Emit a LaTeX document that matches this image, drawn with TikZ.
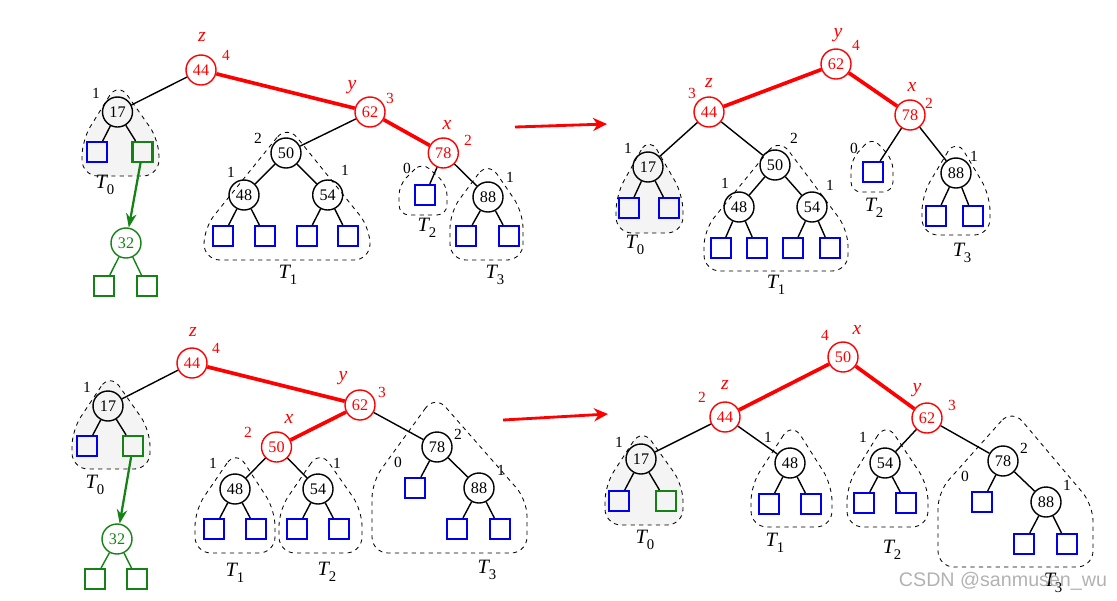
\documentclass[tikz,border=0pt]{standalone}
\usepackage{fontspec}
\setmainfont{Liberation Serif}
\newfontfamily\wmfont{Liberation Sans}
\usetikzlibrary{arrows.meta}
\definecolor{avlred}{RGB}{255,0,0}
\definecolor{avlblue}{RGB}{0,0,235}
\definecolor{avlgreen}{RGB}{20,130,20}
\definecolor{blobgray}{RGB}{244,244,244}
\newcommand\tsub[1]{\textit{T}\kern-1pt\raisebox{-0.6ex}{\fontsize{10.5}{10}\selectfont #1}}
\begin{document}
\begin{tikzpicture}[x=0.025cm,y=-0.025cm,
    inner/.style = {circle,draw,line width=1pt,minimum size=0.75cm,inner sep=0pt,
                    font=\fontsize{11.5}{12}\selectfont},
    rinner/.style = {inner,draw=avlred,text=avlred},
    ginner/.style = {inner,draw=avlgreen,text=avlgreen},
    leaf/.style = {rectangle,draw=avlblue,line width=1.5pt,minimum size=0.5cm,inner sep=0pt},
    gleaf/.style = {leaf,draw=avlgreen},
    edge/.style = {line width=1pt},
    redge/.style = {avlred,line width=2.6pt},
    gedge/.style = {avlgreen,line width=1pt},
    hgt/.style = {inner sep=0pt,font=\fontsize{11}{12}\selectfont},
    rhgt/.style = {hgt,text=avlred},
    tag/.style = {inner sep=0pt,text=avlred,font=\fontsize{14}{15}\selectfont\itshape},
    tname/.style = {inner sep=0pt,font=\fontsize{14.5}{16}\selectfont},
    subtree/.style = {dashed,line width=0.6pt,rounded corners=0.4cm},
    smalltree/.style = {subtree,rounded corners=0.25cm},
    arrow/.style = {avlred,line width=2pt,-{Stealth[length=3.5mm,width=3.3mm]}},
    garrow/.style = {avlgreen,line width=1.6pt,-{Stealth[length=3.5mm,width=2.6mm]}}]
    \useasboundingbox (0,0) rectangle (1117,600);

    % top left
    \draw[subtree,fill=blobgray] (118,82) -- (82,140) -- (82,176) -- (159,176) -- (159,140) -- cycle;
    \draw[subtree] (287,125) -- (204,228) -- (204,260) -- (370,260) -- (370,228) -- cycle;
    \draw[smalltree] (422,162) -- (399,185) -- (399,215) -- (447,215) -- (447,185) -- cycle;
    \draw[subtree] (488,161) -- (450,212) -- (450,260) -- (523,260) -- (523,212) -- cycle;

    \node[rinner] (a44) at (201,70) {44};
    \node[tag] (a44t) at (202,37) {z};
    \node[rhgt] (a44h) at (226,55) {4};
    \node[inner] (a17) at (117.5,112) {17};
    \node[hgt] (a17h) at (96,93) {1};
    \node[leaf] (a17l) at (97,152) {};
    \node[gleaf] (a17r) at (142.5,152) {};
    \node[ginner] (a32) at (126,243) {32};
    \node[gleaf] (a32l) at (104.3,286) {};
    \node[gleaf] (a32r) at (146.7,286) {};
    \node[rinner] (a62) at (370,112) {62};
    \node[tag] (a62t) at (352,87) {y};
    \node[rhgt] (a62h) at (390,98) {3};
    \node[inner] (a50) at (286,153) {50};
    \node[hgt] (a50h) at (258,138) {2};
    \node[inner] (a48) at (244,195) {48};
    \node[hgt] (a48h) at (231,172) {1};
    \node[leaf] (a48l) at (223,236) {};
    \node[leaf] (a48r) at (265,236) {};
    \node[inner] (a54) at (327.7,195) {54};
    \node[hgt] (a54h) at (345,170) {1};
    \node[leaf] (a54l) at (306.7,236) {};
    \node[leaf] (a54r) at (348.3,236) {};
    \node[rinner] (a78) at (443.3,153) {78};
    \node[tag] (a78t) at (447,125) {x};
    \node[rhgt] (a78h) at (468,140) {2};
    \node[leaf] (a78l) at (425,195) {};
    \node[hgt] (a78lh) at (407,168) {0};
    \node[inner] (a88) at (488,197) {88};
    \node[hgt] (a88h) at (510,177) {1};
    \node[leaf] (a88l) at (466,236) {};
    \node[leaf] (a88r) at (509,236) {};
    \node[tname] (aT0) at (105,185) {\tsub{0}};
    \node[tname] (aT1) at (288,275) {\tsub{1}};
    \node[tname] (aT2) at (427,228) {\tsub{2}};
    \node[tname] (aT3) at (495,275) {\tsub{3}};

    \draw[edge] (a44) -- (a17);
    \draw[redge] (a44) -- (a62);
    \draw[edge] (a17) -- (a17l);
    \draw[edge] (a17) -- (a17r);
    \draw[garrow] (a17r) -- (a32);
    \draw[gedge] (a32) -- (a32l);
    \draw[gedge] (a32) -- (a32r);
    \draw[edge] (a62) -- (a50);
    \draw[redge] (a62) -- (a78);
    \draw[edge] (a50) -- (a48);
    \draw[edge] (a50) -- (a54);
    \draw[edge] (a48) -- (a48l);
    \draw[edge] (a48) -- (a48r);
    \draw[edge] (a54) -- (a54l);
    \draw[edge] (a54) -- (a54r);
    \draw[edge] (a78) -- (a78l);
    \draw[edge] (a78) -- (a88);
    \draw[edge] (a88) -- (a88l);
    \draw[edge] (a88) -- (a88r);

    \coordinate (arrAs) at (515,127);
    \coordinate (arrAe) at (607,124);
    \draw[arrow] (arrAs) -- (arrAe);

    % top right
    \draw[subtree,fill=blobgray] (649,136) -- (616,195) -- (616,233) -- (683,233) -- (683,195) -- cycle;
    \draw[subtree] (779,138) -- (704,230) -- (704,271) -- (848,271) -- (848,230) -- cycle;
    \draw[smalltree] (872,137) -- (851,160) -- (851,192) -- (893,192) -- (893,160) -- cycle;
    \draw[subtree] (956,138) -- (922,195) -- (922,235) -- (990,235) -- (990,195) -- cycle;

    \node[rinner] (b62) at (836,64) {62};
    \node[tag] (b62t) at (838,35) {y};
    \node[rhgt] (b62h) at (856,45) {4};
    \node[rinner] (b44) at (709,112) {44};
    \node[tag] (b44t) at (709,83) {z};
    \node[rhgt] (b44h) at (692,93) {3};
    \node[rinner] (b78) at (910,115) {78};
    \node[tag] (b78t) at (912,87) {x};
    \node[rhgt] (b78h) at (929,103) {2};
    \node[inner] (b17) at (648,167) {17};
    \node[hgt] (b17h) at (628,148) {1};
    \node[leaf] (b17l) at (629,208) {};
    \node[leaf] (b17r) at (669,208) {};
    \node[inner] (b50) at (775,165) {50};
    \node[hgt] (b50h) at (794,138) {2};
    \node[inner] (b48) at (739,207) {48};
    \node[hgt] (b48h) at (725,183) {1};
    \node[leaf] (b48l) at (721,248) {};
    \node[leaf] (b48r) at (757,248) {};
    \node[inner] (b54) at (812,207) {54};
    \node[hgt] (b54h) at (830,185) {1};
    \node[leaf] (b54l) at (793,248) {};
    \node[leaf] (b54r) at (830,248) {};
    \node[leaf] (b78l) at (873,172) {};
    \node[hgt] (b78lh) at (854,148) {0};
    \node[inner] (b88) at (956,173) {88};
    \node[hgt] (b88h) at (974,156) {1};
    \node[leaf] (b88l) at (936,216) {};
    \node[leaf] (b88r) at (973,216) {};
    \node[tname] (bT0) at (635,245) {\tsub{0}};
    \node[tname] (bT1) at (776,285) {\tsub{1}};
    \node[tname] (bT2) at (874,208) {\tsub{2}};
    \node[tname] (bT3) at (962,253) {\tsub{3}};

    \draw[redge] (b62) -- (b44);
    \draw[redge] (b62) -- (b78);
    \draw[edge] (b44) -- (b17);
    \draw[edge] (b44) -- (b50);
    \draw[edge] (b17) -- (b17l);
    \draw[edge] (b17) -- (b17r);
    \draw[edge] (b50) -- (b48);
    \draw[edge] (b50) -- (b54);
    \draw[edge] (b48) -- (b48l);
    \draw[edge] (b48) -- (b48r);
    \draw[edge] (b54) -- (b54l);
    \draw[edge] (b54) -- (b54r);
    \draw[edge] (b78) -- (b78l);
    \draw[edge] (b78) -- (b88);
    \draw[edge] (b88) -- (b88l);
    \draw[edge] (b88) -- (b88r);

    % bottom left
    \draw[subtree,fill=blobgray] (110,373) -- (72,430) -- (72,469) -- (150,469) -- (150,430) -- cycle;
    \draw[subtree] (236,450) -- (195,510) -- (195,553) -- (275,553) -- (275,510) -- cycle;
    \draw[subtree] (320,450) -- (279,510) -- (279,553) -- (362,553) -- (362,510) -- cycle;
    \draw[subtree] (435,395) -- (372,482) -- (372,553) -- (527,553) -- (527,500) -- cycle;

    \node[rinner] (c44) at (192,363) {44};
    \node[tag] (c44t) at (193,332) {z};
    \node[rhgt] (c44h) at (216,348) {4};
    \node[inner] (c17) at (108,406) {17};
    \node[hgt] (c17h) at (87,387) {1};
    \node[leaf] (c17l) at (87,446) {};
    \node[gleaf] (c17r) at (133,446) {};
    \node[ginner] (c32) at (117,539) {32};
    \node[gleaf] (c32l) at (95,579) {};
    \node[gleaf] (c32r) at (137,579) {};
    \node[rinner] (c62) at (360,405) {62};
    \node[tag] (c62t) at (343,378) {y};
    \node[rhgt] (c62h) at (382,392) {3};
    \node[rinner] (c50) at (276.5,447) {50};
    \node[tag] (c50t) at (289,419) {x};
    \node[rhgt] (c50h) at (248,432) {2};
    \node[inner] (c48) at (235,489) {48};
    \node[hgt] (c48h) at (213,463) {1};
    \node[leaf] (c48l) at (214,529) {};
    \node[leaf] (c48r) at (256,529) {};
    \node[inner] (c54) at (318,489) {54};
    \node[hgt] (c54h) at (337,463) {1};
    \node[leaf] (c54l) at (297,529) {};
    \node[leaf] (c54r) at (339,529) {};
    \node[inner] (c78) at (437,447) {78};
    \node[hgt] (c78h) at (458,434) {2};
    \node[leaf] (c78l) at (415,488) {};
    \node[hgt] (c78lh) at (398,462) {0};
    \node[inner] (c88) at (479,488) {88};
    \node[hgt] (c88h) at (501,470) {1};
    \node[leaf] (c88l) at (457,529) {};
    \node[leaf] (c88r) at (500,529) {};
    \node[tname] (cT0) at (95,485) {\tsub{0}};
    \node[tname] (cT1) at (235,573) {\tsub{1}};
    \node[tname] (cT2) at (327,572) {\tsub{2}};
    \node[tname] (cT3) at (487,570) {\tsub{3}};

    \draw[edge] (c44) -- (c17);
    \draw[redge] (c44) -- (c62);
    \draw[edge] (c17) -- (c17l);
    \draw[edge] (c17) -- (c17r);
    \draw[garrow] (c17r) -- (c32);
    \draw[gedge] (c32) -- (c32l);
    \draw[gedge] (c32) -- (c32r);
    \draw[redge] (c62) -- (c50);
    \draw[edge] (c62) -- (c78);
    \draw[edge] (c50) -- (c48);
    \draw[edge] (c50) -- (c54);
    \draw[edge] (c48) -- (c48l);
    \draw[edge] (c48) -- (c48r);
    \draw[edge] (c54) -- (c54l);
    \draw[edge] (c54) -- (c54r);
    \draw[edge] (c78) -- (c78l);
    \draw[edge] (c78) -- (c88);
    \draw[edge] (c88) -- (c88l);
    \draw[edge] (c88) -- (c88r);

    \coordinate (arrCs) at (503,420);
    \coordinate (arrCe) at (608,414);
    \draw[arrow] (arrCs) -- (arrCe);

    % bottom right
    \draw[subtree,fill=blobgray] (642,428) -- (605,485) -- (605,525) -- (683,525) -- (683,485) -- cycle;
    \draw[subtree] (792,422) -- (751,485) -- (751,527) -- (832,527) -- (832,485) -- cycle;
    \draw[subtree] (886,422) -- (847,485) -- (847,527) -- (928,527) -- (928,485) -- cycle;
    \draw[subtree] (1012,409) -- (938,492) -- (938,567) -- (1093,567) -- (1093,505) -- cycle;

    \node[rinner] (d50) at (843,357) {50};
    \node[tag] (d50t) at (857,330) {x};
    \node[rhgt] (d50h) at (825,335) {4};
    \node[rinner] (d44) at (725,417) {44};
    \node[tag] (d44t) at (725,385) {z};
    \node[rhgt] (d44h) at (702,397) {2};
    \node[rinner] (d62) at (927,418) {62};
    \node[tag] (d62t) at (917,390) {y};
    \node[rhgt] (d62h) at (952,405) {3};
    \node[inner] (d17) at (641,459) {17};
    \node[hgt] (d17h) at (619,442) {1};
    \node[leaf] (d17l) at (619,501) {};
    \node[gleaf] (d17r) at (666,501) {};
    \node[inner] (d48) at (790,463) {48};
    \node[hgt] (d48h) at (768,437) {1};
    \node[leaf] (d48l) at (769,504) {};
    \node[leaf] (d48r) at (811,504) {};
    \node[inner] (d54) at (885,463) {54};
    \node[hgt] (d54h) at (863,437) {1};
    \node[leaf] (d54l) at (864,503) {};
    \node[leaf] (d54r) at (906,503) {};
    \node[inner] (d78) at (1003,461) {78};
    \node[hgt] (d78h) at (1024,448) {2};
    \node[leaf] (d78l) at (982,502) {};
    \node[hgt] (d78lh) at (965,476) {0};
    \node[inner] (d88) at (1046,502) {88};
    \node[hgt] (d88h) at (1067,485) {1};
    \node[leaf] (d88l) at (1024,544) {};
    \node[leaf] (d88r) at (1067,544) {};
    \node[tname] (dT0) at (645,540) {\tsub{0}};
    \node[tname] (dT1) at (775,543) {\tsub{1}};
    \node[tname] (dT2) at (892,550) {\tsub{2}};
    \node[tname] (dT3) at (1053,583) {\tsub{3}};

    \draw[redge] (d50) -- (d44);
    \draw[redge] (d50) -- (d62);
    \draw[edge] (d44) -- (d17);
    \draw[edge] (d44) -- (d48);
    \draw[edge] (d62) -- (d54);
    \draw[edge] (d62) -- (d78);
    \draw[edge] (d17) -- (d17l);
    \draw[edge] (d17) -- (d17r);
    \draw[edge] (d48) -- (d48l);
    \draw[edge] (d48) -- (d48r);
    \draw[edge] (d54) -- (d54l);
    \draw[edge] (d54) -- (d54r);
    \draw[edge] (d78) -- (d78l);
    \draw[edge] (d78) -- (d88);
    \draw[edge] (d88) -- (d88l);
    \draw[edge] (d88) -- (d88r);

    \node[inner sep=0pt,text=gray!60,font=\wmfont\fontsize{14}{16}\selectfont] (wm) at (1003,581) {CSDN @sanmusen\_wu};
\end{tikzpicture}
\end{document}
